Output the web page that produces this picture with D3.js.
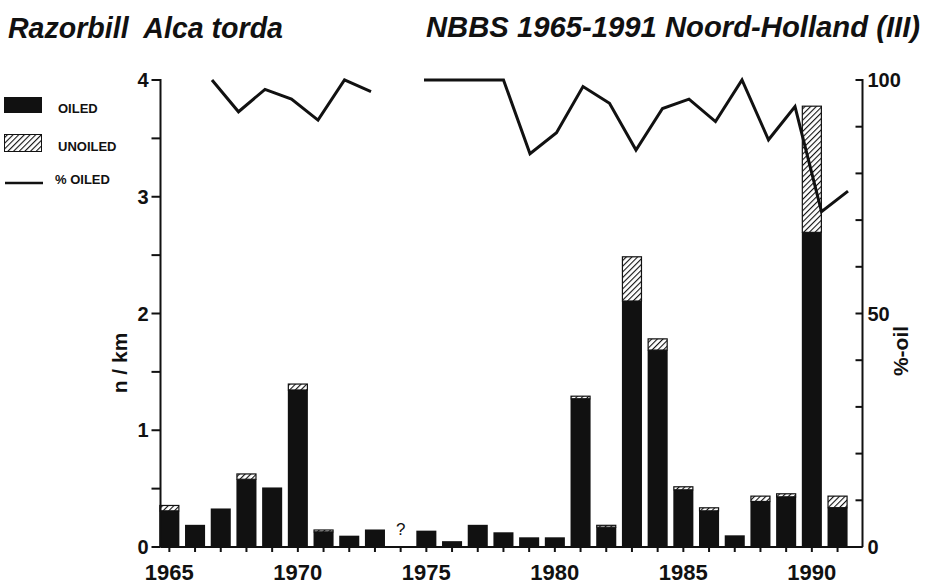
<!DOCTYPE html>
<html lang="en">
<head>
<meta charset="UTF-8">
<title>Razorbill Alca torda - NBBS 1965-1991</title>
<script src="https://d3js.org/d3.v7.min.js"></script>
<style>
  body { margin: 0; background: #fff; }
  svg { display: block; font-family: "Liberation Sans", Arial, sans-serif; }
  .title { font-size: 29px; font-weight: bold; font-style: italic; fill: #111; white-space: pre; }
  .tick-label { font-size: 20px; font-weight: bold; fill: #111; }
  .year-label { font-size: 22px; font-weight: bold; fill: #111; }
  .axis-title { font-size: 21px; font-weight: bold; fill: #111; }
  .legend-label { font-size: 13px; font-weight: bold; fill: #111; }
</style>
</head>
<body>
<div id="chart"></div>
<script>
// data
const years = [1965, 1966, 1967, 1968, 1969, 1970, 1971, 1972, 1973, 1974, 1975, 1976, 1977, 1978,
               1979, 1980, 1981, 1982, 1983, 1984, 1985, 1986, 1987, 1988, 1989, 1990, 1991];
// n/km oiled birds
const oiled = [0.31, 0.19, 0.33, 0.58, 0.51, 1.345, 0.13, 0.097, 0.15, null, 0.14, 0.05, 0.19, 0.126,
               0.083, 0.083, 1.27, 0.17, 2.107, 1.687, 0.49, 0.31, 0.10, 0.39, 0.43, 2.695, 0.337];
// n/km unoiled birds
const unoiled = [0.05, 0, 0, 0.05, 0, 0.055, 0.02, 0, 0, null, 0, 0, 0, 0,
                 0, 0, 0.026, 0.02, 0.383, 0.10, 0.03, 0.03, 0, 0.05, 0.03, 1.085, 0.103];
// % oiled
const pctOiled = [null, null, 100, 93.2, 98.0, 95.9, 91.4, 100, 97.5, null, 100, 100, 100, 100,
                  84.2, 88.7, 98.6, 95.0, 85.0, 93.9, 95.9, 91.1, 100, 87.2, 94.3, 71.8, 76.2];
const yearLabels = [1965, 1970, 1975, 1980, 1985, 1990];
const leftTicks = [0, 1, 2, 3, 4];
const rightTicks = [0, 50, 100];

const W = 929, H = 586;
const svg = d3.select("#chart").append("svg").attr("width", W).attr("height", H);

const defs = svg.append("defs");
const pat = defs.append("pattern")
    .attr("id", "hatch")
    .attr("patternUnits", "userSpaceOnUse")
    .attr("width", 4).attr("height", 4)
    .attr("patternTransform", "rotate(45)");
pat.append("rect").attr("width", 4).attr("height", 4).attr("fill", "#fff");
pat.append("line").attr("x1", 0).attr("y1", 0).attr("x2", 0).attr("y2", 4)
    .attr("stroke", "#111").attr("stroke-width", 2.2);

// scales
const x = d3.scaleBand().domain(years).range([156.5, 850.4]).paddingInner(0.22).paddingOuter(0.11);
const xLine = d3.scaleLinear().domain([1967, 1991]).range([212, 848]);
const yL = d3.scaleLinear().domain([0, 4]).range([547, 80]);
const yR = d3.scaleLinear().domain([0, 100]).range([547, 80]);

const axisL = 160.5, axisR = 862.5, base = yL(0);

// titles
svg.append("text").attr("class", "title").attr("x", 8).attr("y", 38)
    .attr("xml:space", "preserve")
    .attr("textLength", 275).attr("lengthAdjust", "spacingAndGlyphs")
    .text("Razorbill  Alca torda");
svg.append("text").attr("class", "title").attr("x", 426).attr("y", 37)
    .attr("textLength", 494).attr("lengthAdjust", "spacingAndGlyphs")
    .text("NBBS 1965-1991 Noord-Holland (III)");

// bars
const rows = years.map((yr, i) => ({year: yr, oiled: oiled[i], unoiled: unoiled[i]}))
    .filter(d => d.oiled !== null);

const bars = svg.append("g");
bars.selectAll("rect.oiled").data(rows).enter().append("rect")
    .attr("class", "oiled")
    .attr("x", d => x(d.year))
    .attr("width", x.bandwidth())
    .attr("y", d => yL(d.oiled))
    .attr("height", d => base - yL(d.oiled))
    .attr("fill", "#111");
bars.selectAll("rect.unoiled").data(rows.filter(d => d.unoiled > 0)).enter().append("rect")
    .attr("class", "unoiled")
    .attr("x", d => x(d.year) + 0.5)
    .attr("width", x.bandwidth() - 1)
    .attr("y", d => yL(d.oiled + d.unoiled) + 0.5)
    .attr("height", d => Math.max(0, yL(d.oiled) - yL(d.oiled + d.unoiled) - 0.5))
    .attr("fill", "url(#hatch)")
    .attr("stroke", "#111").attr("stroke-width", 1.2);

// missing year marker
svg.append("text").attr("x", x(1974) + x.bandwidth() / 2).attr("y", 535)
    .attr("text-anchor", "middle").attr("font-size", 17).attr("fill", "#111")
    .text("?");

// % oiled line
const line = d3.line()
    .defined(d => d.p !== null)
    .x(d => xLine(d.year))
    .y(d => yR(d.p));
svg.append("path")
    .datum(years.map((yr, i) => ({year: yr, p: pctOiled[i]})))
    .attr("d", line)
    .attr("fill", "none").attr("stroke", "#111").attr("stroke-width", 3)
    .attr("stroke-linejoin", "miter");

// axes
const ax = svg.append("g").attr("stroke", "#111").attr("stroke-width", 2).attr("fill", "none");
ax.append("line").attr("x1", axisL).attr("x2", axisL).attr("y1", yL(4) - 1).attr("y2", base);
ax.append("line").attr("x1", axisR).attr("x2", axisR).attr("y1", yR(100) - 1).attr("y2", base);
ax.append("line").attr("x1", axisL).attr("x2", axisR).attr("y1", base).attr("y2", base);

// left ticks every 0.5, outward
ax.selectAll("line.lt").data(d3.range(0, 4.01, 0.5)).enter().append("line")
    .attr("x1", axisL - 9).attr("x2", axisL).attr("y1", d => yL(d)).attr("y2", d => yL(d));
// right ticks every 10, inward
ax.selectAll("line.rt").data(d3.range(0, 101, 10)).enter().append("line")
    .attr("x1", axisR - 7).attr("x2", axisR).attr("y1", d => yR(d)).attr("y2", d => yR(d));
// year ticks
ax.selectAll("line.xt").data(years).enter().append("line")
    .attr("x1", d => x(d) + x.bandwidth() / 2).attr("x2", d => x(d) + x.bandwidth() / 2)
    .attr("y1", base).attr("y2", base + 5);

svg.selectAll("text.lt").data(leftTicks).enter().append("text")
    .attr("class", "tick-label").attr("text-anchor", "end")
    .attr("x", axisL - 12).attr("y", d => yL(d) + 7).text(d => d);
svg.selectAll("text.rt").data(rightTicks).enter().append("text")
    .attr("class", "tick-label").attr("text-anchor", "start")
    .attr("x", axisR + 5).attr("y", d => yR(d) + 7).text(d => d);
svg.selectAll("text.yr").data(yearLabels).enter().append("text")
    .attr("class", "year-label").attr("text-anchor", "middle")
    .attr("x", d => x(d) + x.bandwidth() / 2).attr("y", 580).text(d => d);

// axis titles
svg.append("text").attr("class", "axis-title").attr("text-anchor", "middle")
    .attr("transform", "translate(127,363) rotate(-90)").text("n / km");
svg.append("text").attr("class", "axis-title").attr("text-anchor", "middle")
    .attr("transform", "translate(908,351) rotate(-90)").text("%-oil");

// legend
const lg = svg.append("g");
lg.append("rect").attr("x", 4).attr("y", 97).attr("width", 38).attr("height", 16).attr("fill", "#111");
lg.append("rect").attr("x", 4.5).attr("y", 134.5).attr("width", 37).attr("height", 17)
    .attr("fill", "url(#hatch)").attr("stroke", "#111").attr("stroke-width", 1);
lg.append("line").attr("x1", 5).attr("x2", 43).attr("y1", 183).attr("y2", 183)
    .attr("stroke", "#111").attr("stroke-width", 2.5);
lg.append("text").attr("class", "legend-label").attr("x", 58).attr("y", 113).text("OILED");
lg.append("text").attr("class", "legend-label").attr("x", 58).attr("y", 151).text("UNOILED");
lg.append("text").attr("class", "legend-label").attr("x", 55).attr("y", 184).text("% OILED");
</script>
</body>
</html>
